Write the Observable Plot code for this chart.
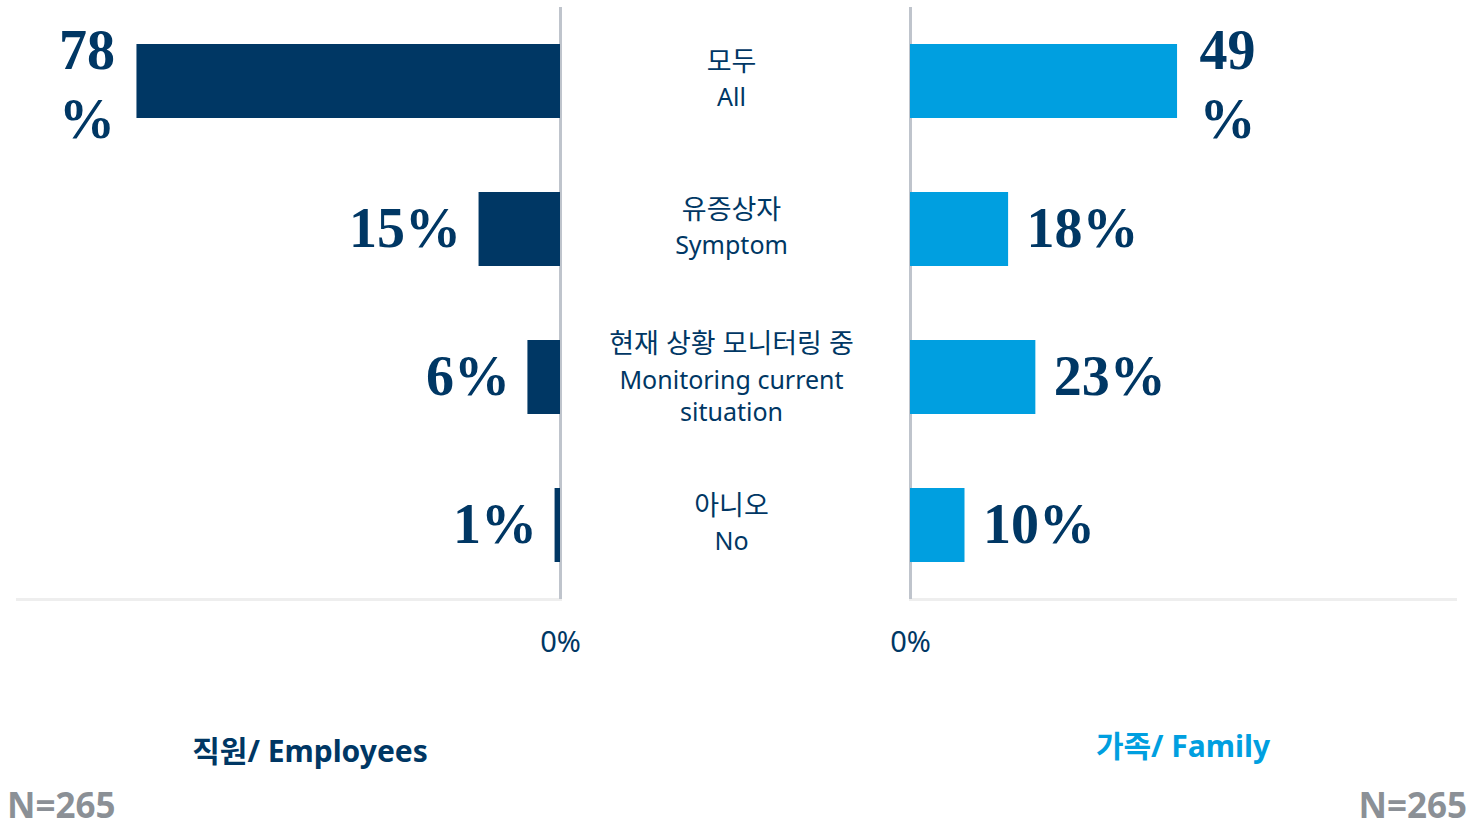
<!DOCTYPE html>
<html><head><meta charset="utf-8">
<script src="https://cdn.jsdelivr.net/npm/d3@7"></script>
<script src="https://cdn.jsdelivr.net/npm/@observablehq/plot@0.6"></script>
<style>
html,body{margin:0;background:#fff;overflow:hidden}
#c{position:relative;width:1471px;height:828px;background:#fff}
.p{position:absolute;top:0}
.lbl{position:absolute;font-family:"Noto Sans","Noto Sans CJK KR",sans-serif;font-weight:700;line-height:1;white-space:nowrap}
</style></head>
<body><div id="c"></div>
<script>
// ---- data ----
const categories = ["All", "Symptom", "Monitoring", "No"];
const labelsKo = ["모두", "유증상자", "현재 상황 모니터링 중", "아니오"];
const labelsEn = ["All", "Symptom", "Monitoring current\nsituation", "No"];
const employees = [78, 15, 6, 1];
const family = [49, 18, 23, 10];
const employeeLabels = ["78\n%", "15%", "6%", "1%"];
const familyLabels = ["49\n%", "18%", "23%", "10%"];
const xTicks = [0];
const leftTitle = "직원/ Employees";
const rightTitle = "가족/ Family";
const sampleNote = "N=265";

// ---- styles ----
const NAVY = "#003764";
const BLUE = "#009FE0";
const GRID = "#BFC4CC";
const BASE = "#EEEEEE";
const SERIF = "Liberation Serif, DejaVu Serif, serif";
const SANS = "Noto Sans, Noto Sans CJK KR, sans-serif";

const left = categories.map((c, i) => ({c, v: employees[i], label: employeeLabels[i]}));
const right = categories.map((c, i) => ({c, v: family[i], label: familyLabels[i]}));
const center = categories.map((c, i) => ({c, ko: labelsKo[i], en: labelsEn[i], multi: labelsEn[i].includes("\n")}));

const H = 670;
const yOpts = {domain: categories, paddingInner: 0.5, paddingOuter: 0.25, axis: null};
const common = {height: H, marginTop: 7, marginBottom: 71,
  style: {background: "transparent", color: NAVY, fontFamily: SANS, overflow: "visible"}};

const valueText = {fill: NAVY, fontFamily: SERIF, fontWeight: "bold", fontSize: 56};

function side(data, color, reverse) {
  const wrapped = data.filter(d => d.label.includes("\n"));
  const single = data.filter(d => !d.label.includes("\n"));
  const s = reverse ? -1 : 1;
  return Plot.plot({
    ...common,
    width: reverse ? 735 : 736,
    marginLeft: reverse ? 17 : 175,
    marginRight: reverse ? 175 : 16,
    x: {domain: [0, 100], reverse, label: null},
    y: yOpts,
    marks: [
      Plot.frame({anchor: "bottom", stroke: BASE, strokeWidth: 3}),
      Plot.ruleX([0], {stroke: GRID, strokeWidth: 3}),
      Plot.barX(data, {x: "v", y: "c", fill: color}),
      Plot.text(single, {x: "v", y: "c", text: "label", textAnchor: reverse ? "end" : "start", dx: s * 18, ...valueText}),
      Plot.text(wrapped, {x: "v", y: "c", text: "label", textAnchor: "middle", dx: s * 50, lineHeight: 1.23, ...valueText}),
      Plot.axisX(xTicks, {tickSize: 0, tickPadding: 32, tickFormat: d => d + "%", fontSize: 29, fill: NAVY, fontFamily: SANS, label: null})
    ]
  });
}

const root = document.getElementById("c");
const L = side(left, NAVY, true);
L.classList.add("p"); L.style.left = "0px";
const R = side(right, BLUE, false);
R.classList.add("p"); R.style.left = "735px";

const two = center.filter(d => !d.multi);
const three = center.filter(d => d.multi);
const ko = {y: "c", text: "ko", fontSize: 27, fill: NAVY, fontFamily: SANS};
const en = {y: "c", text: "en", fontSize: 25, lineHeight: 1.28, fill: NAVY, fontFamily: SANS};
const M = Plot.plot({
  ...common,
  width: 350, marginLeft: 0, marginRight: 0,
  y: yOpts,
  marks: [
    Plot.text(two, {...ko, dy: -19}),
    Plot.text(two, {...en, dy: 14}),
    Plot.text(three, {...ko, dy: -33}),
    Plot.text(three, {...en, dy: 17})
  ]
});
M.classList.add("p"); M.style.left = "556px";
root.append(L, R, M);

function label(text, css) {
  const d = document.createElement("div");
  d.className = "lbl";
  d.textContent = text;
  Object.assign(d.style, css);
  root.append(d);
}
label(leftTitle, {left: "0px", width: "620px", textAlign: "center", top: "736px", fontSize: "30px", color: NAVY});
label(rightTitle, {left: "883px", width: "600px", textAlign: "center", top: "731px", fontSize: "30px", color: BLUE});
label(sampleNote, {left: "7px", top: "787px", fontSize: "35px", color: "#8B9096"});
label(sampleNote, {right: "4px", top: "787px", fontSize: "35px", color: "#8B9096"});
</script>
</body></html>
